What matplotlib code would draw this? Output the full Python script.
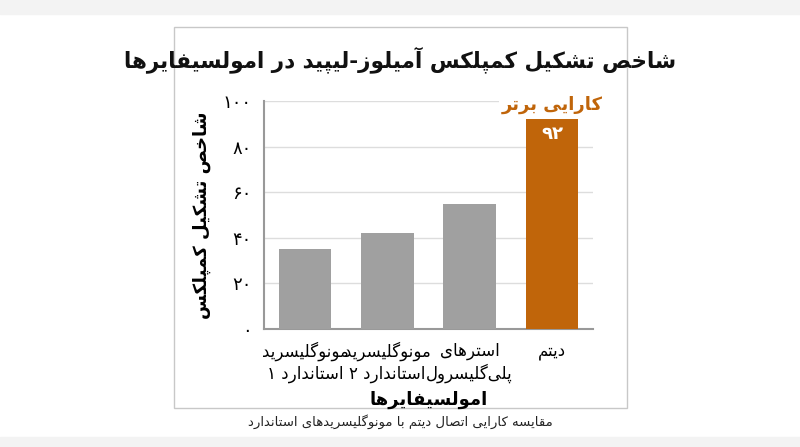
import matplotlib
matplotlib.use("Agg")
import matplotlib.pyplot as plt
from matplotlib.patches import Rectangle

categories = ["مونوگلیسرید\nاستاندارد ۱", "مونوگلیسرید\nاستاندارد ۲", "استرهای\nپلی\u200cگلیسرول", "دیتم"]
values = [35, 42, 55, 92]
yticks = [0, 20, 40, 60, 80, 100]
ytick_labels = ["۰", "۲۰", "۴۰", "۶۰", "۸۰", "۱۰۰"]
title = "شاخص تشکیل کمپلکس آمیلوز-لیپید در امولسیفایرها"
xlabel = "امولسیفایرها"
ylabel = "شاخص تشکیل کمپلکس"
badge = "کارایی برتر"
value_label = "۹۲"
caption = "مقایسه کارایی اتصال دیتم با مونوگلیسریدهای استاندارد"

# forms: isolated, final, initial, medial (None => right-joining only)
F = {
 'ا': (0xFE8D, 0xFE8E, None, None), 'آ': (0xFE81, 0xFE82, None, None),
 'ب': (0xFE8F, 0xFE90, 0xFE91, 0xFE92), 'پ': (0xFB56, 0xFB57, 0xFB58, 0xFB59),
 'ت': (0xFE95, 0xFE96, 0xFE97, 0xFE98), 'ث': (0xFE99, 0xFE9A, 0xFE9B, 0xFE9C),
 'ج': (0xFE9D, 0xFE9E, 0xFE9F, 0xFEA0), 'چ': (0xFB7A, 0xFB7B, 0xFB7C, 0xFB7D),
 'ح': (0xFEA1, 0xFEA2, 0xFEA3, 0xFEA4), 'خ': (0xFEA5, 0xFEA6, 0xFEA7, 0xFEA8),
 'د': (0xFEA9, 0xFEAA, None, None), 'ذ': (0xFEAB, 0xFEAC, None, None),
 'ر': (0xFEAD, 0xFEAE, None, None), 'ز': (0xFEAF, 0xFEB0, None, None),
 'ژ': (0xFB8A, 0xFB8B, None, None),
 'س': (0xFEB1, 0xFEB2, 0xFEB3, 0xFEB4), 'ش': (0xFEB5, 0xFEB6, 0xFEB7, 0xFEB8),
 'ص': (0xFEB9, 0xFEBA, 0xFEBB, 0xFEBC), 'ض': (0xFEBD, 0xFEBE, 0xFEBF, 0xFEC0),
 'ط': (0xFEC1, 0xFEC2, 0xFEC3, 0xFEC4), 'ظ': (0xFEC5, 0xFEC6, 0xFEC7, 0xFEC8),
 'ع': (0xFEC9, 0xFECA, 0xFECB, 0xFECC), 'غ': (0xFECD, 0xFECE, 0xFECF, 0xFED0),
 'ف': (0xFED1, 0xFED2, 0xFED3, 0xFED4), 'ق': (0xFED5, 0xFED6, 0xFED7, 0xFED8),
 'ک': (0xFB8E, 0xFB8F, 0xFB90, 0xFB91), 'گ': (0xFB92, 0xFB93, 0xFB94, 0xFB95),
 'ل': (0xFEDD, 0xFEDE, 0xFEDF, 0xFEE0), 'م': (0xFEE1, 0xFEE2, 0xFEE3, 0xFEE4),
 'ن': (0xFEE5, 0xFEE6, 0xFEE7, 0xFEE8), 'و': (0xFEED, 0xFEEE, None, None),
 'ه': (0xFEE9, 0xFEEA, 0xFEEB, 0xFEEC), 'ی': (0xFBFC, 0xFBFD, 0xFBFE, 0xFBFF),
}

def shape_line(s):
    out = []
    n = len(s)
    for i, c in enumerate(s):
        if c not in F:
            if c != '\u200c':
                out.append(c)
            continue
        iso, fin, ini, med = F[c]
        prev = s[i-1] if i > 0 else None
        nxt = s[i+1] if i < n-1 else None
        jp = prev in F and F[prev][2] is not None
        jn = nxt in F and ini is not None
        if jp and jn:
            ch = med
        elif jp:
            ch = fin
        elif jn:
            ch = ini
        else:
            ch = iso
        out.append(chr(ch))
    return ''.join(out)[::-1]

def fa(s):
    return '\n'.join(shape_line(l) for l in s.split('\n'))

plt.rcParams['font.family'] = ['DejaVu Sans']
fig = plt.figure(figsize=(8, 4.47), dpi=100)
fig.patch.set_facecolor('white')
fig.add_artist(Rectangle((0, 1 - 14/447), 1, 14/447, transform=fig.transFigure, color='#f3f3f3', zorder=0))
fig.add_artist(Rectangle((0, 0), 1, 10/447, transform=fig.transFigure, color='#f3f3f3', zorder=0))
fig.add_artist(Rectangle((174/800, 1 - 408/447), 453/800, 381/447, transform=fig.transFigure,
                         facecolor='white', edgecolor='#c8c8c8', lw=1, zorder=0))

ax = fig.add_axes([264/800, 1 - 329/447, 329/800, 228/447])
x = list(range(len(categories)))
colors = ['#a0a0a0'] * 3 + ['#c0650a']
ax.bar(x, values, width=0.64, color=colors, zorder=3)
ax.set_xlim(-0.5, 3.5)
ax.set_ylim(0, 100)
ax.set_yticks(yticks)
ax.set_yticklabels(ytick_labels, fontsize=13)
ax.set_xticks(x)
ax.set_xticklabels([fa(c) for c in categories], fontsize=12, linespacing=1.25)
ax.tick_params(length=0, pad=9)
ax.grid(axis='y', color='#dddddd', lw=1, zorder=0)
for s in ['top', 'right']:
    ax.spines[s].set_visible(False)
for s in ['left', 'bottom']:
    ax.spines[s].set_color('#999999')
    ax.spines[s].set_linewidth(1.5)
ax.set_xlabel(fa(xlabel), fontsize=13, fontweight='bold', labelpad=6)
ax.set_ylabel(fa(ylabel), fontsize=13, fontweight='bold', labelpad=8)
ax.text(3, values[3] - 2.5, value_label, ha='center', va='top', color='white', fontsize=13, fontweight='bold', zorder=4)
ax.text(3, values[3] + 6.5, fa(badge), ha='center', va='center', color='#c0650a', fontsize=13, fontweight='bold',
        clip_on=False, zorder=5, bbox=dict(facecolor='white', edgecolor='none', pad=2))

fig.text(400/800, 1 - 60/447, fa(title), ha='center', va='center', fontsize=15.5, fontweight='bold', color='#111111')
fig.text(400/800, 1 - 422/447, fa(caption), ha='center', va='center', fontsize=9.5, color='#222222')

fig.savefig('out.png', dpi=100)
